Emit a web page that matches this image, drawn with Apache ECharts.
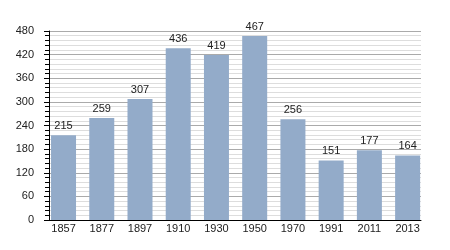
<!DOCTYPE html>
<html><head><meta charset="utf-8">
<script src="https://cdn.jsdelivr.net/npm/echarts@6/dist/echarts.min.js"></script>
<style>html,body{margin:0;padding:0;background:#fff}#c{width:450px;height:250px}</style>
</head><body><div id="c"></div>
<script>
const years = ['1857','1877','1897','1910','1930','1950','1970','1991','2011','2013'];
const population = [215,259,307,436,419,467,256,151,177,164];
const yTicks = [0,60,120,180,240,300,360,420,480];

const idx = years.map((y,i)=>i);
const chart = echarts.init(document.getElementById('c'), null, {renderer:'canvas'});
chart.setOption({
  animation:false,
  grid:{left:49,right:29,top:31,bottom:30,containLabel:false},
  xAxis:{
    type:'value', min:-0.38, max:years.length-1+0.35,
    axisLine:{show:true,onZero:false,lineStyle:{color:'#000',width:1}},
    axisTick:{show:false},
    splitLine:{show:false},
    axisLabel:{customValues:idx,formatter:v=>years[Math.round(v)],color:'#222',fontSize:11,fontFamily:'Liberation Sans, Arial',margin:3}
  },
  yAxis:{
    type:'value', min:yTicks[0], max:yTicks[yTicks.length-1], interval:60,
    axisLine:{show:true,onZero:false,lineStyle:{color:'#000',width:1}},
    axisTick:{show:true,length:5,lineStyle:{color:'#000'}},
    minorTick:{show:true,splitNumber:5,length:4,lineStyle:{color:'#000'}},
    axisLabel:{color:'#222',fontSize:11,fontFamily:'Liberation Sans, Arial',margin:15},
    splitLine:{lineStyle:{color:'#aaaaaa',width:1}},
    minorSplitLine:{show:true,lineStyle:{color:'#dddddd',width:1}}
  },
  series:[{
    type:'bar', data:population.map((v,i)=>[i,v]), barWidth:25,
    itemStyle:{color:'#93abc9'},
    label:{show:true,position:'top',color:'#222',fontSize:11,fontFamily:'Liberation Sans, Arial',distance:4,formatter:p=>p.value[1]}
  }]
});
</script></body></html>
